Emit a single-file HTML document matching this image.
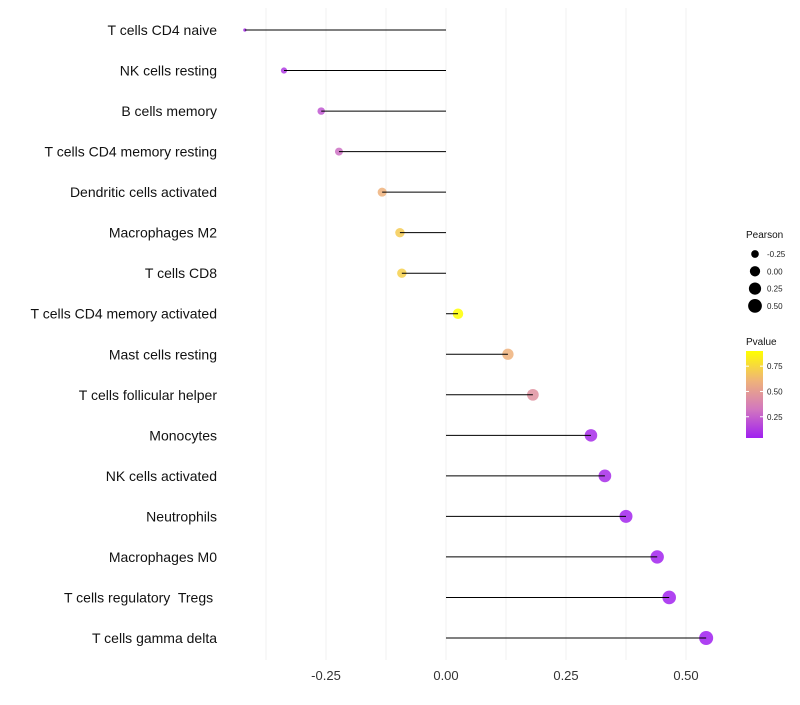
<!DOCTYPE html>
<html><head><meta charset="utf-8"><style>
body{margin:0;background:#fff;font-family:"Liberation Sans",sans-serif}
text{white-space:pre}
</style></head><body>
<svg id="chart" width="800" height="700" xmlns="http://www.w3.org/2000/svg" font-family="Liberation Sans, sans-serif"></svg>
<script>
const categories=["T cells CD4 naive","NK cells resting","B cells memory","T cells CD4 memory resting","Dendritic cells activated","Macrophages M2","T cells CD8","T cells CD4 memory activated","Mast cells resting","T cells follicular helper","Monocytes","NK cells activated","Neutrophils","Macrophages M0","T cells regulatory  Tregs ","T cells gamma delta"];
const pearson=[-0.419,-0.3375,-0.26,-0.223,-0.133,-0.096,-0.092,0.025,0.129,0.181,0.302,0.331,0.375,0.44,0.465,0.542];
const pvalue=[0.08,0.12,0.22,0.3,0.6,0.7,0.72,0.92,0.6,0.45,0.08,0.08,0.06,0.05,0.05,0.04];
const xTicks=[-0.25,0,0.25,0.5];
const xTickLabels=["-0.25","0.00","0.25","0.50"];
const xGrid=[-0.375,-0.25,-0.125,0,0.125,0.25,0.375,0.5];
const sizeLegend=[-0.25,0,0.25,0.5];
const sizeLegendLabels=["-0.25","0.00","0.25","0.50"];
const pTicks=[0.25,0.5,0.75];

const svg=document.getElementById('chart');
const NS="http://www.w3.org/2000/svg";
function mk(t,a,p){const e=document.createElementNS(NS,t);for(const k in a)e.setAttribute(k,a[k]);(p||svg).appendChild(e);return e;}
const xS=v=>446+v*480;
const yS=i=>30+i*(608/15);
const rS=v=>1.5+5.5*Math.sqrt(Math.max(0,(v+0.42)/0.96));
function lerp(a,b,t){return a.map((x,i)=>Math.round(x+(b[i]-x)*t));}
function col(p){const t=Math.max(0,Math.min(1,(p-0.04)/0.86));const stops=[[160,32,240],[210,120,190],[240,180,120],[255,255,0]];const s=t*3,i=Math.min(2,Math.floor(s));const c=lerp(stops[i],stops[i+1],s-i);return `rgb(${c[0]},${c[1]},${c[2]})`;}

xGrid.forEach(v=>{const g=mk('line',{x1:xS(v),x2:xS(v),y1:8,y2:660,stroke:'#f0f0f0','stroke-width':1});
});
xTicks.forEach((v,i)=>{const t=mk('text',{x:xS(v),y:680,'text-anchor':'middle','font-size':13,fill:'#333'});t.textContent=xTickLabels[i];
});
categories.forEach((c,i)=>{const y=yS(i);
const t=mk('text',{x:217,y:y+5,'text-anchor':'end','font-size':14,fill:'#111'});t.textContent=c;

const pt=mk('circle',{cx:xS(pearson[i]),cy:y,r:rS(pearson[i]),fill:col(pvalue[i]),'fill-opacity':0.85});

const l=mk('line',{x1:xS(0),x2:xS(pearson[i]),y1:y,y2:y,stroke:'#000','stroke-width':1});
});
const lt=mk('text',{x:746,y:238,'font-size':10,fill:'#111'});lt.textContent='Pearson';

sizeLegend.forEach((v,i)=>{const y=254+i*17.3;
const c=mk('circle',{cx:755,cy:y,r:rS(v),fill:'#000'});
const t=mk('text',{x:767,y:y+3,'font-size':8,fill:'#222'});t.textContent=sizeLegendLabels[i];
});
const pt2=mk('text',{x:746,y:345,'font-size':10,fill:'#111'});pt2.textContent='Pvalue';

const defs=mk('defs',{});const gr=mk('linearGradient',{id:'pg',x1:0,y1:1,x2:0,y2:0},defs);
[0,0.33,0.66,1].forEach(o=>mk('stop',{offset:o,'stop-color':col(0.04+o*0.86)},gr));
const bar=mk('rect',{x:746,y:351,width:17,height:87,fill:'url(#pg)'});

const pY=p=>438-(p-0.04)/0.86*87;
pTicks.forEach(p=>{const y=pY(p);mk('line',{x1:746,x2:749,y1:y,y2:y,stroke:'#fff'});mk('line',{x1:760,x2:763,y1:y,y2:y,stroke:'#fff'});
const t=mk('text',{x:767,y:y+3,'font-size':8,fill:'#222'});t.textContent=p.toFixed(2);
});
</script>
</body></html>
